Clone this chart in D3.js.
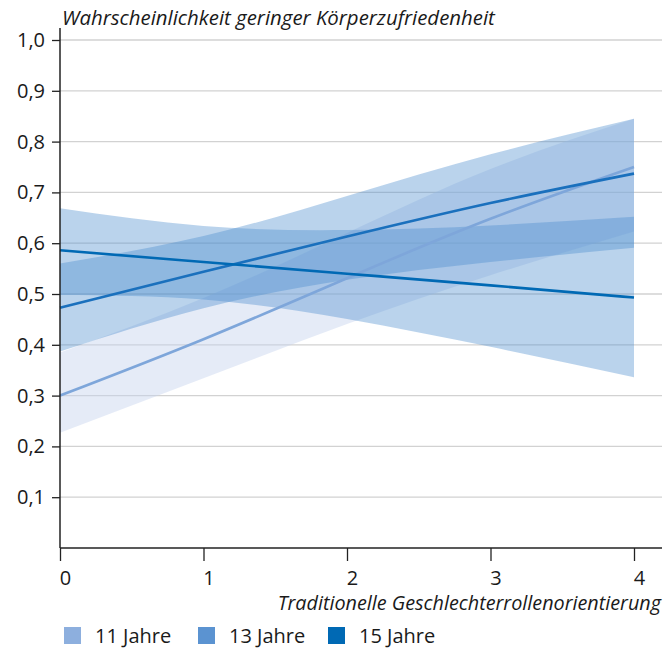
<!DOCTYPE html>
<html>
<head>
<meta charset="utf-8">
<script src="https://cdn.jsdelivr.net/npm/d3@7"></script>
<style>
  html, body { margin: 0; padding: 0; background: #fff; }
  svg { display: block; font-family: "Open Sans", "Noto Sans", sans-serif; }
</style>
</head>
<body>
<svg id="chart" width="664" height="649"></svg>
<script>
// ---- data ----
const xValues = [0, 1, 2, 3, 4];
const seriesNames = ["11 Jahre", "13 Jahre", "15 Jahre"];

const line11  = [0.300, 0.411, 0.531, 0.648, 0.750];
const lower11 = [0.227, 0.334, 0.441, 0.537, 0.623];
const upper11 = [0.385, 0.492, 0.620, 0.746, 0.845];

const line13  = [0.473, 0.544, 0.613, 0.679, 0.737];
const lower13 = [0.387, 0.472, 0.528, 0.563, 0.591];
const upper13 = [0.560, 0.614, 0.693, 0.775, 0.845];

const line15  = [0.586, 0.563, 0.540, 0.517, 0.493];
const lower15 = [0.498, 0.489, 0.451, 0.396, 0.336];
const upper15 = [0.669, 0.634, 0.626, 0.635, 0.652];

const yTicks = [0.1, 0.2, 0.3, 0.4, 0.5, 0.6, 0.7, 0.8, 0.9, 1.0];
const xTicks = [0, 1, 2, 3, 4];

const yTitle = "Wahrscheinlichkeit geringer Körperzufriedenheit";
const xTitle = "Traditionelle Geschlechterrollenorientierung";

// ---- styles ----
const legendColors = ["#8dafde", "#5b93d1", "#0069b4"];
const lineColors   = ["#7ea6da", "#1a70bd", "#0069b4"];
const bandFills    = ["#c6d3ee", "#4a8ccc", "#4a8ccc"];
const bandOpacity  = [0.45, 0.38, 0.38];

const series = [
  { line: line11, lower: lower11, upper: upper11 },
  { line: line13, lower: lower13, upper: upper13 },
  { line: line15, lower: lower15, upper: upper15 }
];

const svg = d3.select("#chart");
const x = d3.scaleLinear().domain([0, 4]).range([60, 634]);
const y = d3.scaleLinear().domain([0, 1]).range([548, 40]);
const fmt = v => d3.format(".1f")(v).replace(".", ",");

// gridlines
svg.append("g").selectAll("line").data(yTicks).join("line")
  .attr("x1", 60).attr("x2", 662)
  .attr("y1", d => y(d)).attr("y2", d => y(d))
  .attr("stroke", "#d2d2d2").attr("stroke-width", 1.3);

// bands
const area = d3.area()
  .x(d => x(d.x)).y0(d => y(d.lo)).y1(d => y(d.hi))
  .curve(d3.curveNatural);
series.forEach((s, i) => {
  const pts = xValues.map((xv, j) => ({ x: xv, lo: s.lower[j], hi: s.upper[j] }));
  svg.append("path").datum(pts)
    .attr("d", area)
    .attr("fill", bandFills[i])
    .attr("fill-opacity", bandOpacity[i]);
});

// lines
const line = d3.line().x(d => x(d.x)).y(d => y(d.v)).curve(d3.curveNatural);
series.forEach((s, i) => {
  const pts = xValues.map((xv, j) => ({ x: xv, v: s.line[j] }));
  svg.append("path").datum(pts)
    .attr("d", line)
    .attr("fill", "none")
    .attr("stroke", lineColors[i])
    .attr("stroke-width", 2.6);
});

// y axis
const yAxis = svg.append("g").attr("transform", "translate(60,0)")
  .call(d3.axisLeft(y).tickValues(yTicks).tickSize(8).tickPadding(7).tickFormat(fmt));
yAxis.select(".domain").remove();
yAxis.selectAll(".tick line").attr("stroke", "#222").attr("stroke-width", 1.3);
yAxis.selectAll(".tick text").attr("font-size", 20).attr("fill", "#1a1a1a")
  .attr("font-family", "'Open Sans', sans-serif");
svg.append("line").attr("x1", 60).attr("x2", 60).attr("y1", 28).attr("y2", 548)
  .attr("stroke", "#222").attr("stroke-width", 1.5);

// x axis
const xAxis = svg.append("g").attr("transform", "translate(0,548)")
  .call(d3.axisBottom(x).tickValues(xTicks).tickSize(13).tickPadding(10).tickFormat(d3.format("d")));
xAxis.select(".domain").remove();
xAxis.selectAll(".tick line").attr("stroke", "#222").attr("stroke-width", 1.3);
xAxis.selectAll(".tick text").attr("font-size", 20).attr("fill", "#1a1a1a")
  .attr("dx", 5).attr("font-family", "'Open Sans', sans-serif");
svg.append("line").attr("x1", 60).attr("x2", 662).attr("y1", 548).attr("y2", 548)
  .attr("stroke", "#222").attr("stroke-width", 1.5);

// titles
svg.append("text").attr("x", 62).attr("y", 25)
  .attr("font-size", 20.4).attr("font-style", "italic").attr("fill", "#1a1a1a")
  .text(yTitle);
svg.append("text").attr("x", 661).attr("y", 610).attr("text-anchor", "end")
  .attr("font-size", 19.8).attr("font-style", "italic").attr("fill", "#1a1a1a")
  .text(xTitle);

// legend
const legendX = [64, 198, 328];
const lg = svg.append("g").selectAll("g").data(seriesNames).join("g")
  .attr("transform", (d, i) => `translate(${legendX[i]},627)`);
lg.append("rect").attr("width", 17).attr("height", 17)
  .attr("fill", (d, i) => legendColors[i]);
lg.append("text").attr("x", 31).attr("y", 16)
  .attr("font-size", 20).attr("fill", "#1a1a1a").text(d => d);
</script>
</body>
</html>
